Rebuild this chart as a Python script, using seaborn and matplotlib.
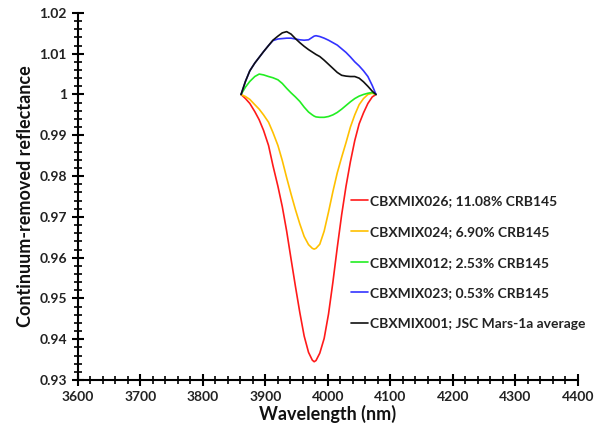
import matplotlib
matplotlib.use("Agg")
import matplotlib.pyplot as plt
import seaborn as sns
import pandas as pd
from matplotlib.ticker import MultipleLocator, FuncFormatter

wavelength = [3861, 3868, 3875, 3883, 3890, 3897, 3905, 3912, 3920, 3927, 3934,
              3941, 3948, 3955, 3962, 3969, 3975, 3978, 3981, 3987, 3994, 4001,
              4008, 4015, 4022, 4029, 4036, 4043, 4050, 4057, 4064, 4071, 4077]
red = [1.0, 0.9990, 0.9978, 0.9958, 0.9938, 0.9912, 0.9875, 0.9826, 0.9775, 0.9725,
       0.9665, 0.9597, 0.9530, 0.9466, 0.9408, 0.9368, 0.9349, 0.9345, 0.9348, 0.9366,
       0.9402, 0.9462, 0.9540, 0.9625, 0.9705, 0.9775, 0.9835, 0.9887, 0.9928, 0.9955,
       0.9978, 0.9994, 1.0]
orange = [1.0, 0.9995, 0.9988, 0.9975, 0.9964, 0.9950, 0.9932, 0.9907, 0.9875, 0.9838,
          0.9796, 0.9756, 0.9718, 0.9683, 0.9652, 0.9632, 0.9623, 0.9621, 0.9623, 0.9633,
          0.9665, 0.9712, 0.9762, 0.9808, 0.9846, 0.9882, 0.9920, 0.9950, 0.9975, 0.9990,
          1.0000, 1.0003, 1.0]
green = [1.0, 1.0018, 1.0032, 1.0044, 1.0050, 1.0048, 1.0044, 1.0041, 1.0036, 1.0027,
         1.0015, 1.0004, 0.9994, 0.9983, 0.9969, 0.9957, 0.9950, 0.9947, 0.9945, 0.9944,
         0.9944, 0.9946, 0.9950, 0.9956, 0.9964, 0.9973, 0.9982, 0.9990, 0.9996, 1.0000,
         1.0003, 1.0005, 1.0]
blue = [1.0, 1.0032, 1.0058, 1.0077, 1.0091, 1.0105, 1.0120, 1.0132, 1.0136, 1.0137,
        1.0138, 1.0138, 1.0136, 1.0134, 1.0133, 1.0134, 1.0140, 1.0143, 1.0144, 1.0142,
        1.0138, 1.0133, 1.0127, 1.0121, 1.0112, 1.0103, 1.0092, 1.0080, 1.0070, 1.0058,
        1.0044, 1.0022, 1.0]
black = [1.0, 1.0032, 1.0058, 1.0077, 1.0091, 1.0105, 1.0120, 1.0133, 1.0143, 1.0151,
         1.0154, 1.0148, 1.0137, 1.0127, 1.0118, 1.0110, 1.0104, 1.0101, 1.0098, 1.0093,
         1.0084, 1.0074, 1.0064, 1.0054, 1.0047, 1.0045, 1.0044, 1.0044, 1.0040, 1.0031,
         1.0020, 1.0008, 1.0]

labels = ["CBXMIX026; 11.08% CRB145", "CBXMIX024; 6.90% CRB145",
          "CBXMIX012; 2.53% CRB145", "CBXMIX023; 0.53% CRB145",
          "CBXMIX001; JSC Mars-1a average"]
colors = ["#FF1A1A", "#FFC000", "#22EE22", "#3333FF", "#111111"]
series = [red, orange, green, blue, black]

rows = []
for lab, vals in zip(labels, series):
    for w, v in zip(wavelength, vals):
        rows.append({"Wavelength": w, "Reflectance": v, "Sample": lab})
df = pd.DataFrame(rows)

sns.set_style("white")
plt.rcParams["font.family"] = ["Lato", "DejaVu Sans"]

fig = plt.figure(figsize=(6, 4.29), dpi=100)
ax = fig.add_axes([0.13, 0.114, 0.833, 0.856])

sns.lineplot(data=df, x="Wavelength", y="Reflectance", hue="Sample",
             hue_order=labels, palette=dict(zip(labels, colors)),
             linewidth=1.2, ax=ax, sort=False)
for line in ax.get_lines():
    line.set_solid_joinstyle("round")

ax.set_xlim(3600, 4400)
ax.set_ylim(0.93, 1.02)
ax.xaxis.set_major_locator(MultipleLocator(100))
ax.xaxis.set_minor_locator(MultipleLocator(20))
ax.yaxis.set_major_locator(MultipleLocator(0.01))
ax.yaxis.set_minor_locator(MultipleLocator(0.002))
ax.yaxis.set_major_formatter(FuncFormatter(lambda v, p: f"{round(v, 4):g}"))

for s in ["top", "right"]:
    ax.spines[s].set_visible(False)
for s in ["left", "bottom"]:
    ax.spines[s].set_color("black")
    ax.spines[s].set_linewidth(1.5)

ax.tick_params(which="major", direction="inout", length=9, width=1.5,
               colors="black", labelsize=10, labelcolor="#222222")
ax.tick_params(which="minor", direction="inout", length=6, width=1.2, colors="black")
ax.tick_params(axis="x", which="both", bottom=True)
ax.tick_params(axis="y", which="both", left=True)
for t in ax.get_xticklabels() + ax.get_yticklabels():
    t.set_fontweight("bold")

ax.set_xlabel("Wavelength (nm)", fontsize=13, fontweight="bold", labelpad=1, color="#111111")
ax.set_ylabel("Continuum-removed reflectance", fontsize=13, fontweight="bold",
              labelpad=4, color="#111111")

leg = ax.legend(loc="center left", bbox_to_anchor=(0.535, 0.32), frameon=False,
                fontsize=10, handlelength=1.2, handletextpad=0.15, labelspacing=1.35,
                borderaxespad=0)
for t in leg.get_texts():
    t.set_fontweight("bold")
    t.set_color("#222222")
for l in leg.get_lines():
    l.set_linewidth(1.2)

fig.savefig("out.png", dpi=100)
